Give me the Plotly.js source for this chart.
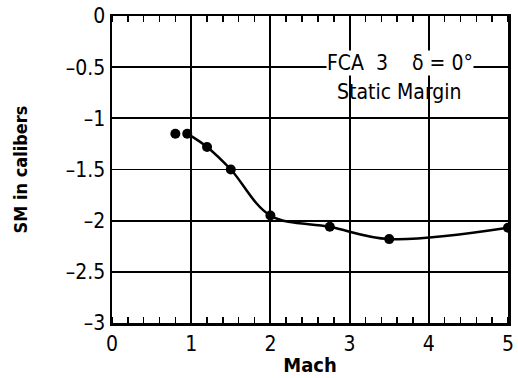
<!DOCTYPE html>
<html>
<head>
<meta charset="utf-8">
<script src="https://cdn.plot.ly/plotly-3.0.1.min.js"></script>
<style>html,body{margin:0;padding:0;background:#fff;}#chart{width:518px;height:378px;}</style>
</head>
<body>
<div id="chart"></div>
<script>
// Data
const mach = [0.8, 0.95, 1.2, 1.5, 2.0, 2.75, 3.5, 5.0];
const sm = [-1.15, -1.15, -1.28, -1.50, -1.95, -2.06, -2.18, -2.07];
const xTickVals = [0, 1, 2, 3, 4, 5];
const xTickText = ['0', '1', '2', '3', '4', '5'];
const yTickVals = [0, -0.5, -1, -1.5, -2, -2.5, -3];
const yTickText = ['0', '\u20130.5', '\u20131', '\u20131.5', '\u20132', '\u20132.5', '\u20133'];
const noteLine1 = 'FCA  3    \u03b4 = 0\u00b0';
const noteLine2 = 'Static Margin';

const font = 'DejaVu Sans Condensed, Liberation Sans Narrow, Liberation Sans, Arial, sans-serif';

const traces = [
  {
    x: mach.slice(1), y: sm.slice(1), mode: 'lines', type: 'scatter',
    line: {color: '#000', width: 2.5, shape: 'spline', smoothing: 1},
    hoverinfo: 'skip', showlegend: false
  },
  {
    x: mach, y: sm, mode: 'markers', type: 'scatter',
    marker: {color: '#000', size: 10},
    showlegend: false
  }
];

const layout = {
  width: 518, height: 378,
  margin: {l: 112, r: 10, t: 16, b: 55},
  paper_bgcolor: '#fff', plot_bgcolor: '#fff',
  font: {family: font, color: '#000', size: 21},
  showlegend: false,
  xaxis: {
    range: [0, 5], fixedrange: true,
    tickvals: xTickVals, ticktext: xTickText,
    ticks: '', showgrid: true, gridcolor: '#000', gridwidth: 1.8,
    zeroline: false, showline: true, linecolor: '#000', linewidth: 2.5, mirror: 'allticks',
    minor: {dtick: 0.2, tick0: 0, ticks: 'inside', ticklen: 6, tickwidth: 1.5, tickcolor: '#000', showgrid: false},
    tickfont: {size: 21, family: font},
    title: {text: '<b>Mach</b>', font: {size: 20, family: font}, standoff: 4}
  },
  yaxis: {
    range: [-3, 0], fixedrange: true,
    tickvals: yTickVals, ticktext: yTickText,
    ticks: '', showgrid: true, gridcolor: '#000', gridwidth: 1.8,
    zeroline: false, showline: true, linecolor: '#000', linewidth: 2.5, mirror: true,
    tickfont: {size: 21, family: font},
    title: {text: '<b>SM in calibers</b>', font: {size: 18, family: font}, standoff: 34}
  },
  annotations: [
    {x: 3.63, y: -0.46, xref: 'x', yref: 'y', text: noteLine1, showarrow: false,
     bgcolor: '#fff', font: {size: 21, family: font}, borderpad: 0},
    {x: 3.63, y: -0.74, xref: 'x', yref: 'y', text: noteLine2, showarrow: false,
     font: {size: 21, family: font}}
  ]
};

Plotly.newPlot('chart', traces, layout, {displayModeBar: false, staticPlot: true});
</script>
</body>
</html>
